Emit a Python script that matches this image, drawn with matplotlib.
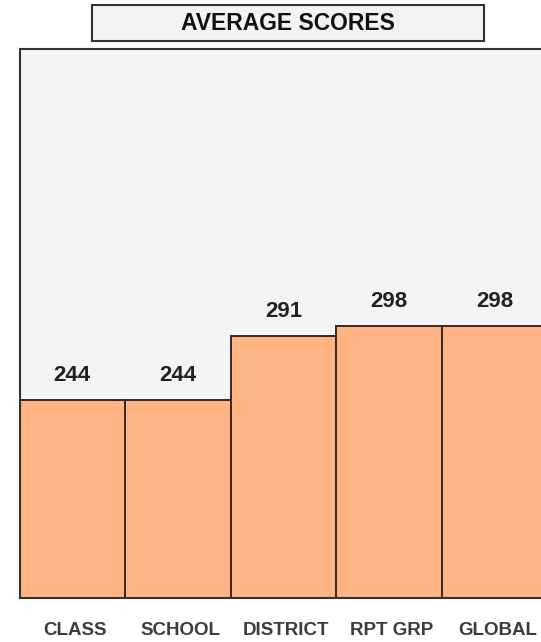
import matplotlib
matplotlib.use("Agg")
import matplotlib.pyplot as plt
import matplotlib.transforms as mtransforms
from matplotlib.patches import Rectangle

categories = ["CLASS", "SCHOOL", "DISTRICT", "RPT GRP", "GLOBAL"]
scores = [244, 244, 291, 298, 298]
title = "AVERAGE SCORES"

plt.rcParams['font.family'] = ['Liberation Sans', 'DejaVu Sans']

W, H = 541, 642
fig = plt.figure(figsize=(W / 100, H / 100), dpi=100)
fig.patch.set_facecolor('white')

# axes runs a bit past the right edge, like the original screenshot
ax = fig.add_axes([19.5 / W, (H - 598) / H, 528 / W, 549.5 / H])
ax.set_facecolor('#f4f4f4')

x = range(len(categories))
ax.bar(x, scores, width=1.0, color='#fdb383', edgecolor='#3a2520',
       linewidth=1.4, zorder=2)

ax.set_xlim(-0.5, len(categories) - 0.5)
ax.set_ylim(100, 500)
ax.set_yticks([])
ax.set_xticks(list(x))
ax.set_xticklabels(categories, fontsize=13.5, fontweight='bold', color='#3c3c3c')
ax.tick_params(axis='x', length=0, pad=17)
shift = mtransforms.ScaledTranslation(3 / 100, 0, fig.dpi_scale_trans)
for lbl in ax.get_xticklabels():
    lbl.set_transform(lbl.get_transform() + shift)

for sp in ax.spines.values():
    sp.set_color('#333333')
    sp.set_linewidth(1.5)

for i, v in enumerate(scores):
    ax.annotate(str(v), (i, v), xytext=(0, 13.5), textcoords='offset points',
                ha='center', va='baseline', fontsize=16, fontweight='bold',
                color='#222222')

# title box
bx0, bx1, by0, by1 = 92, 484, 5, 41
box = Rectangle((bx0 / W, 1 - by1 / H), (bx1 - bx0) / W, (by1 - by0) / H,
                transform=fig.transFigure, facecolor='#f3f3f3',
                edgecolor='#333333', linewidth=1.5)
fig.add_artist(box)
fig.text((bx0 + bx1) / 2 / W, 1 - (by0 + by1) / 2 / H, title, ha='center',
         va='center', fontsize=16.5, fontweight='bold', color='#111111')

fig.savefig('out.png', dpi=100)
